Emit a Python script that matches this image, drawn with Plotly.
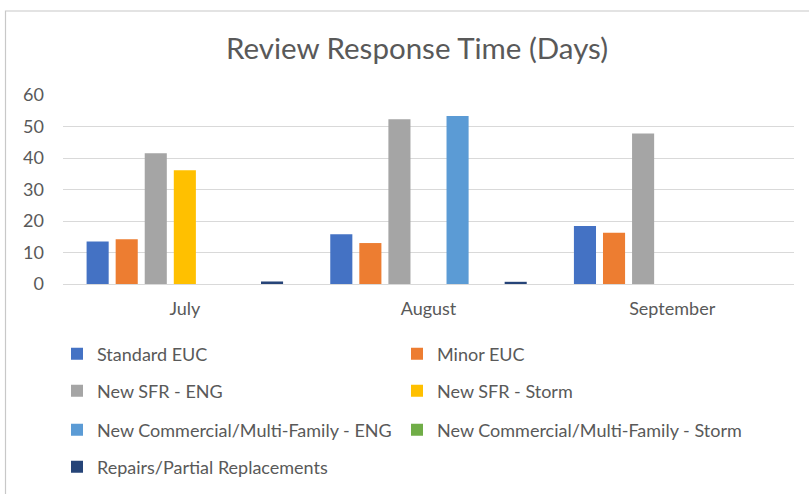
import plotly.graph_objects as go

months = ["July", "August", "September"]
series_names = [
    "Standard EUC",
    "Minor EUC",
    "New SFR - ENG",
    "New SFR - Storm",
    "New Commercial/Multi-Family - ENG",
    "New Commercial/Multi-Family - Storm",
    "Repairs/Partial Replacements",
]
standard_euc = [13.5, 15.8, 18.4]
minor_euc = [14.2, 13.0, 16.3]
sfr_eng = [41.5, 52.3, 47.8]
sfr_storm = [36.1, 0, 0]
comm_eng = [0, 53.3, 0]
comm_storm = [0, 0, 0]
repairs = [0.8, 0.7, 0]
series_values = [standard_euc, minor_euc, sfr_eng, sfr_storm, comm_eng, comm_storm, repairs]
colors = ["#4472C4", "#ED7D31", "#A5A5A5", "#FFC000", "#5B9BD5", "#70AD47", "#264478"]
y_ticks = [0, 10, 20, 30, 40, 50, 60]

FONT = "Lato"
TXT = "#595959"

W, H = 809, 494
L, R, T, B = 63, 15, 95, 210
plot_h = H - T - B
plot_w = W - L - R

def py(pix):
    return (H - B - pix) / plot_h

def px(pix):
    return (pix - L) / plot_w

row_centers = [354, 391, 430, 467]
col_lefts = [57, 397]

fig = go.Figure()
legend_layouts = {}
for i, (name, vals, col) in enumerate(zip(series_names, series_values, colors)):
    lid = "legend" if i == 0 else f"legend{i + 1}"
    fig.add_trace(go.Bar(x=months, y=vals, name=name, marker=dict(color=col, line=dict(width=0)),
                         legend=lid))
    legend_layouts[lid] = dict(
        orientation="v", font=dict(family=FONT, size=18, color=TXT), bgcolor="rgba(0,0,0,0)",
        xanchor="left", yanchor="middle", x=px(col_lefts[i % 2]), y=py(row_centers[i // 2]),
    )

fig.update_layout(
    width=W, height=H,
    margin=dict(l=L, r=R, t=T, b=B, autoexpand=False),
    paper_bgcolor="white", plot_bgcolor="white",
    barmode="group", bargap=0.165, bargroupgap=0.24,
    title=dict(text="Review Response Time (Days)", x=417 / W, xanchor="center",
               xref="container", yref="container", y=1 - 49 / H, yanchor="middle",
               font=dict(family=FONT, size=29.5, color=TXT)),
    font=dict(family=FONT, color=TXT),
    showlegend=True,
    xaxis=dict(showline=False, showgrid=False, ticks="", ticklabelstandoff=12,
               tickfont=dict(family=FONT, size=18, color=TXT)),
    yaxis=dict(range=[0, 60], tickvals=y_ticks, showgrid=True, gridcolor="#D9D9D9", gridwidth=1,
               zeroline=True, zerolinecolor="#D9D9D9", zerolinewidth=1, showline=False,
               ticks="", ticklabelstandoff=18, tickfont=dict(family=FONT, size=18, color=TXT)),
    shapes=[dict(type="rect", xref="paper", yref="paper", x0=px(5.5), x1=px(830), y0=py(11), y1=py(520),
                 line=dict(color="#C8C8C8", width=1.2), fillcolor="rgba(0,0,0,0)", layer="below")],
    **legend_layouts,
)

fig.write_html("out.html", config={"displayModeBar": False},
               post_script="document.body.style.margin='0';document.body.style.padding='0';")
